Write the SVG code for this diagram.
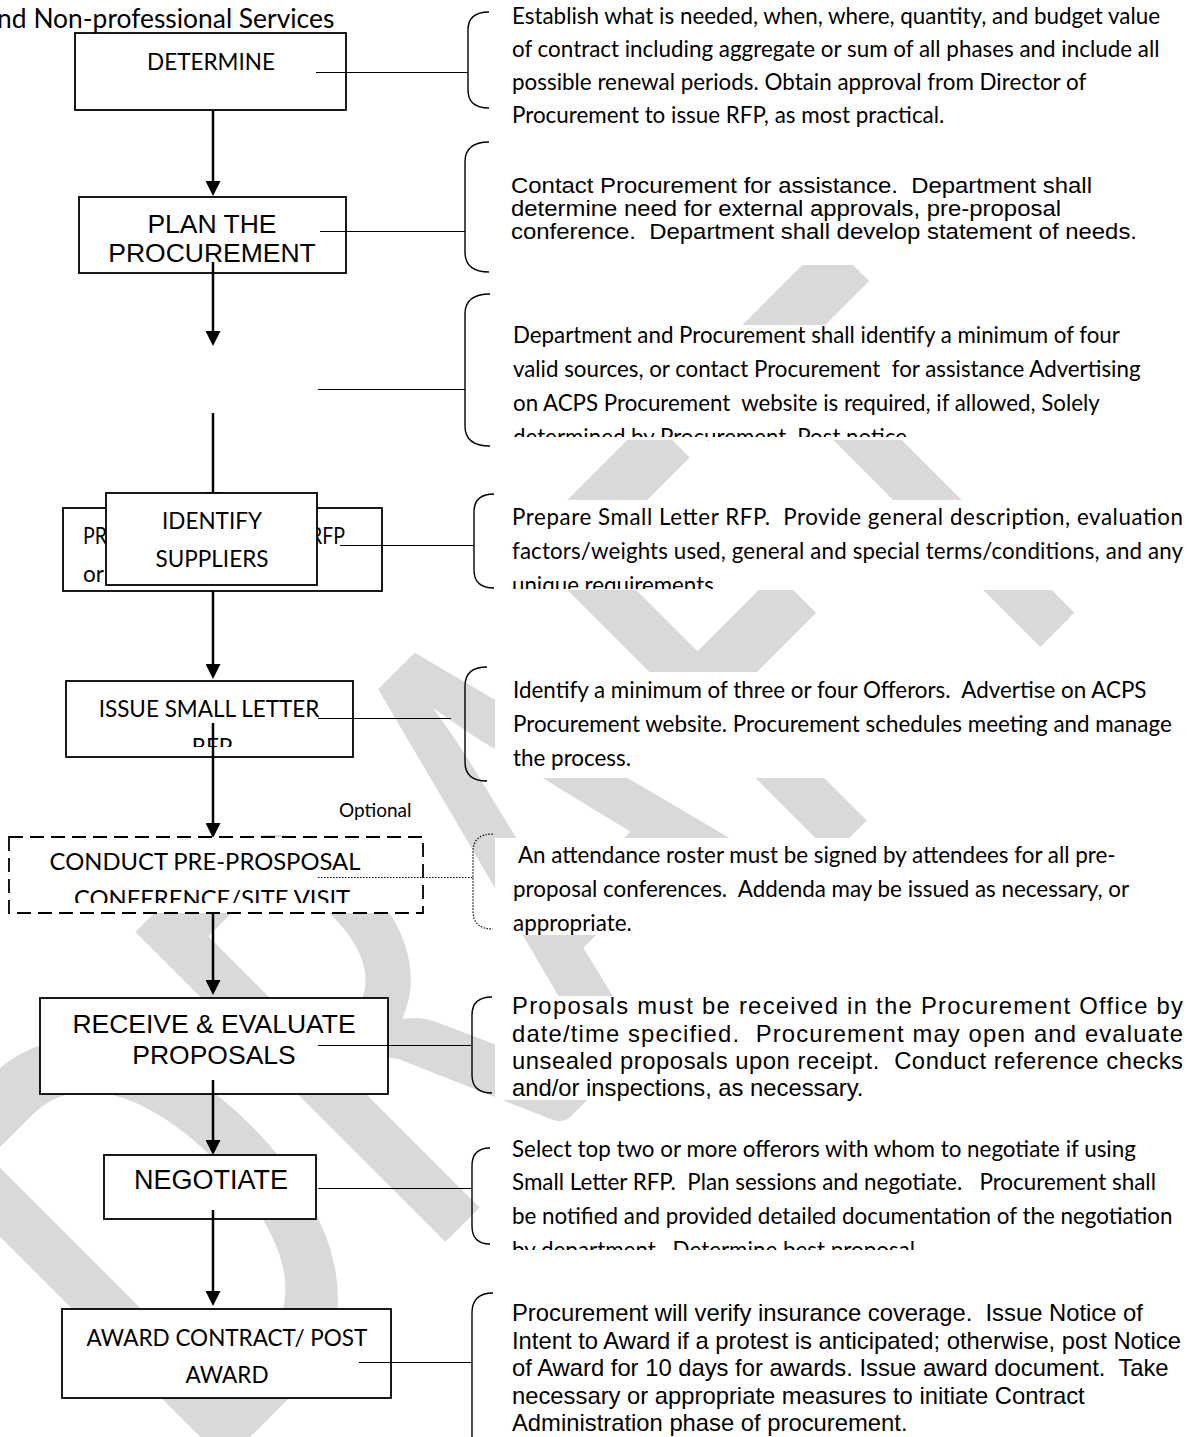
<svg xmlns="http://www.w3.org/2000/svg" width="1189" height="1437" viewBox="0 0 1189 1437" xml:space="preserve">
<style>
text{white-space:pre}
.cal{font-family:Lato,'Liberation Sans',sans-serif;fill:#000}
.ari{font-family:'Liberation Sans',Arial,sans-serif;fill:#000}
.box{fill:#fff;stroke:#000;stroke-width:1.8}
.dash{fill:#fff;stroke:#000;stroke-width:1.8;stroke-dasharray:14 7}
.conn{stroke:#000;stroke-width:1;fill:none}
.dot{stroke:#000;stroke-width:1.2;fill:none;stroke-dasharray:1.5 1.5}
.brk{stroke:#000;stroke-width:1.4;fill:none}
.arr{stroke:#000;stroke-width:2.5;fill:none;marker-end:url(#ah)}
.wm{font-family:Lato,'Liberation Sans',sans-serif;font-weight:bold;fill:#d9d9d9;stroke:#fff;stroke-width:10}
.tb{fill:#fff}
</style>
<defs>
<marker id="ah" markerUnits="userSpaceOnUse" markerWidth="15" markerHeight="15" viewBox="0 0 15 15" refX="9" refY="7.5" orient="auto">
<path d="M0,0 L15,7.5 L0,15 z" fill="#000"/>
</marker>
<clipPath id="clipIssue"><rect x="60" y="680" width="300" height="67"/></clipPath>
<clipPath id="clipConduct"><rect x="5" y="835" width="420" height="68"/></clipPath>
<clipPath id="clipB3"><rect x="495" y="300" width="694" height="137"/></clipPath>
<clipPath id="clipB4"><rect x="495" y="495" width="694" height="94"/></clipPath>
<clipPath id="clipB8"><rect x="495" y="1140" width="694" height="110"/></clipPath>
</defs>
<rect width="1189" height="1437" fill="#fff"/>
<g id="watermark" transform="rotate(-45) translate(425 1198) scale(0.66 1)">
<text class="wm" x="0" y="0" font-size="620" text-anchor="end">DRAFT</text>
</g>
<g id="textbox-fills">
<rect class="tb" x="495" y="0" width="694" height="135"/>
<rect class="tb" x="495" y="150" width="694" height="115"/>
<rect class="tb" x="495" y="325" width="694" height="115"/>
<rect class="tb" x="495" y="500" width="694" height="90"/>
<rect class="tb" x="495" y="672" width="694" height="106"/>
<rect class="tb" x="495" y="838" width="694" height="97"/>
<rect class="tb" x="495" y="996" width="694" height="104"/>
<rect class="tb" x="495" y="1140" width="694" height="110"/>
<rect class="tb" x="495" y="1300" width="694" height="137"/>
</g>
<text class="cal" x="-16" y="28" font-size="26.4">and Non-professional Services</text>
<g id="connectors">
<line class="arr" x1="213" y1="110" x2="213" y2="190"/>
<line class="arr" x1="213" y1="262" x2="213" y2="340"/>
<line class="arr" x1="213" y1="413" x2="213" y2="501"/>
<line class="arr" x1="213" y1="586" x2="213" y2="673"/>
<line class="arr" x1="213" y1="723" x2="213" y2="832"/>
<line class="arr" x1="213" y1="913" x2="213" y2="989"/>
<line class="arr" x1="213" y1="1080" x2="213" y2="1149"/>
<line class="arr" x1="213" y1="1210" x2="213" y2="1300"/>
</g>
<g id="n-determine">
<rect class="box" x="75" y="33" width="271" height="77"/>
<text class="cal" x="211" y="70" font-size="22.5" text-anchor="middle">DETERMINE</text>
</g>
<g id="n-plan">
<rect class="box" x="79" y="197" width="267" height="76"/>
<text class="ari" x="212" y="233" font-size="26.5" text-anchor="middle">PLAN THE</text>
<text class="ari" x="212" y="262" font-size="26.5" text-anchor="middle">PROCUREMENT</text>
</g>
<g id="n-prepare">
<rect class="box" x="63" y="508" width="319" height="83"/>
<text class="cal" x="83" y="544" font-size="22.5" textLength="262" lengthAdjust="spacingAndGlyphs">PREPARE SMALL LETTER RFP</text>
<text class="cal" x="83" y="582" font-size="22.5">or</text>
</g>
<g id="n-identify">
<rect class="box" x="106" y="493" width="211" height="92"/>
<text class="cal" x="212" y="529" font-size="22.5" text-anchor="middle">IDENTIFY</text>
<text class="cal" x="212" y="567" font-size="22.5" text-anchor="middle">SUPPLIERS</text>
</g>
<g id="n-issue">
<rect class="box" x="66" y="681" width="287" height="76"/>
<text class="cal" x="209" y="717" font-size="22.5" text-anchor="middle">ISSUE SMALL LETTER</text>
<text class="cal" x="212" y="755" font-size="22.5" text-anchor="middle" clip-path="url(#clipIssue)">RFP</text>
</g>
<line x1="213" y1="723" x2="213" y2="757" stroke="#000" stroke-width="2.5"/>
<text class="cal" x="339" y="817" font-size="19">Optional</text>
<g id="n-conduct">
<rect class="dash" x="9" y="837" width="414" height="76"/>
<text class="cal" x="205" y="870" font-size="23.8" text-anchor="middle">CONDUCT PRE-PROSPOSAL</text>
<text class="cal" x="212" y="907" font-size="23.8" text-anchor="middle" clip-path="url(#clipConduct)">CONFERENCE/SITE VISIT</text>
</g>
<g id="n-receive">
<rect class="box" x="40" y="998" width="348" height="96"/>
<text class="ari" x="214" y="1033" font-size="26.5" text-anchor="middle">RECEIVE &amp; EVALUATE</text>
<text class="ari" x="214" y="1064" font-size="26.5" text-anchor="middle">PROPOSALS</text>
</g>
<g id="n-negotiate">
<rect class="box" x="104" y="1155" width="212" height="64"/>
<text class="ari" x="211" y="1189" font-size="27" text-anchor="middle">NEGOTIATE</text>
</g>
<g id="n-award">
<rect class="box" x="62" y="1309" width="329" height="89"/>
<text class="cal" x="227" y="1346" font-size="22.5" text-anchor="middle">AWARD CONTRACT/ POST</text>
<text class="cal" x="227" y="1383" font-size="22.5" text-anchor="middle">AWARD</text>
</g>
<line x1="213" y1="1080" x2="213" y2="1094" stroke="#000" stroke-width="2.5"/>
<line x1="213" y1="1210" x2="213" y2="1219" stroke="#000" stroke-width="2.5"/>
<line x1="213" y1="262" x2="213" y2="273" stroke="#000" stroke-width="2.5"/>
<g id="callout-lines">
<line class="conn" x1="316" y1="72.5" x2="468" y2="72.5"/>
<line class="conn" x1="320" y1="231.5" x2="465" y2="231.5"/>
<line class="conn" x1="318" y1="389.5" x2="465" y2="389.5"/>
<line class="conn" x1="340" y1="545.5" x2="474" y2="545.5"/>
<line class="conn" x1="318" y1="718.5" x2="451" y2="718.5"/>
<line class="dot" x1="318" y1="877.5" x2="473" y2="877.5"/>
<line class="conn" x1="318" y1="1045.5" x2="472" y2="1045.5"/>
<line class="conn" x1="318" y1="1188.5" x2="472" y2="1188.5"/>
<line class="conn" x1="359" y1="1362.5" x2="472" y2="1362.5"/>
</g>
<g id="brackets">
<path class="brk" d="M489,12 Q468,12 468,30 L468,90 Q468,108 489,108"/>
<path class="brk" d="M489,142 Q465,142 465,162 L465,252 Q465,272 489,272"/>
<path class="brk" d="M490,294 Q465,294 465,314 L465,426 Q465,446 490,446"/>
<path class="brk" d="M494,494 Q474,494 474,512 L474,570 Q474,588 494,588"/>
<path class="brk" d="M487,667 Q465,667 465,686 L465,762 Q465,781 487,781"/>
<path class="dot" d="M493,834 Q473,834 473,852 L473,911 Q473,929 493,929"/>
<path class="brk" d="M492,997 Q472,997 472,1015 L472,1075 Q472,1093 492,1093"/>
<path class="brk" d="M490,1148 Q472,1148 472,1166 L472,1226 Q472,1244 490,1244"/>
<path class="brk" d="M493,1293 Q472,1293 472,1313 L472,1460"/>
</g>
<g id="t1">
<text class="cal" x="512" y="24" font-size="22.4">Establish what is needed, when, where, quantity, and budget value</text>
<text class="cal" x="512" y="57" font-size="22.4">of contract including aggregate or sum of all phases and include all</text>
<text class="cal" x="512" y="90" font-size="22.4">possible renewal periods. Obtain approval from Director of</text>
<text class="cal" x="512" y="123" font-size="22.4">Procurement to issue RFP, as most practical.</text>
</g>
<g id="t2">
<text class="ari" x="511" y="193" font-size="22" textLength="581" lengthAdjust="spacingAndGlyphs">Contact Procurement for assistance.  Department shall</text>
<text class="ari" x="511" y="216" font-size="22" textLength="550" lengthAdjust="spacingAndGlyphs">determine need for external approvals, pre-proposal</text>
<text class="ari" x="511" y="239" font-size="22" textLength="626" lengthAdjust="spacingAndGlyphs">conference.  Department shall develop statement of needs.</text>
</g>
<g id="t3">
<text class="cal" x="513" y="343" font-size="22.3">Department and Procurement shall identify a minimum of four</text>
<text class="cal" x="513" y="377" font-size="22.3">valid sources, or contact Procurement  for assistance Advertising</text>
<text class="cal" x="513" y="411" font-size="22.3">on ACPS Procurement  website is required, if allowed, Solely</text>
<text class="cal" x="513" y="445" font-size="22.3" clip-path="url(#clipB3)">determined by Procurement. Post notice</text>
</g>
<g id="t4">
<text class="cal" x="512" y="525" font-size="22.3" textLength="671" lengthAdjust="spacing">Prepare Small Letter RFP.  Provide general description, evaluation</text>
<text class="cal" x="512" y="559" font-size="22.3" textLength="671" lengthAdjust="spacing">factors/weights used, general and special terms/conditions, and any</text>
<text class="cal" x="512" y="593" font-size="22.3" clip-path="url(#clipB4)">unique requirements.</text>
</g>
<g id="t5">
<text class="cal" x="513" y="698" font-size="22.4">Identify a minimum of three or four Offerors.  Advertise on ACPS</text>
<text class="cal" x="513" y="732" font-size="22.4">Procurement website. Procurement schedules meeting and manage</text>
<text class="cal" x="513" y="766" font-size="22.4">the process.</text>
</g>
<g id="t6">
<text class="cal" x="513" y="863" font-size="22.4"> An attendance roster must be signed by attendees for all pre-</text>
<text class="cal" x="513" y="897" font-size="22.4">proposal conferences.  Addenda may be issued as necessary, or</text>
<text class="cal" x="513" y="931" font-size="22.4">appropriate.</text>
</g>
<g id="t7">
<text class="ari" x="512" y="1014" font-size="23.8" textLength="671" lengthAdjust="spacing">Proposals must be received in the Procurement Office by</text>
<text class="ari" x="512" y="1042" font-size="23.8" textLength="671" lengthAdjust="spacing">date/time specified.  Procurement may open and evaluate</text>
<text class="ari" x="512" y="1069" font-size="23.8" textLength="671" lengthAdjust="spacing">unsealed proposals upon receipt.  Conduct reference checks</text>
<text class="ari" x="512" y="1096" font-size="23.8">and/or inspections, as necessary.</text>
</g>
<g id="t8">
<text class="cal" x="512" y="1157" font-size="22.4">Select top two or more offerors with whom to negotiate if using</text>
<text class="cal" x="512" y="1190" font-size="22.4">Small Letter RFP.  Plan sessions and negotiate.   Procurement shall</text>
<text class="cal" x="512" y="1224" font-size="22.4">be notified and provided detailed documentation of the negotiation</text>
<text class="cal" x="512" y="1258" font-size="22.4" clip-path="url(#clipB8)">by department.  Determine best proposal.</text>
</g>
<g id="t9">
<text class="ari" x="512" y="1321" font-size="23.8">Procurement will verify insurance coverage.  Issue Notice of</text>
<text class="ari" x="512" y="1349" font-size="23.8">Intent to Award if a protest is anticipated; otherwise, post Notice</text>
<text class="ari" x="512" y="1376" font-size="23.8">of Award for 10 days for awards. Issue award document.  Take</text>
<text class="ari" x="512" y="1404" font-size="23.8">necessary or appropriate measures to initiate Contract</text>
<text class="ari" x="512" y="1431" font-size="23.8">Administration phase of procurement.</text>
</g>
</svg>
